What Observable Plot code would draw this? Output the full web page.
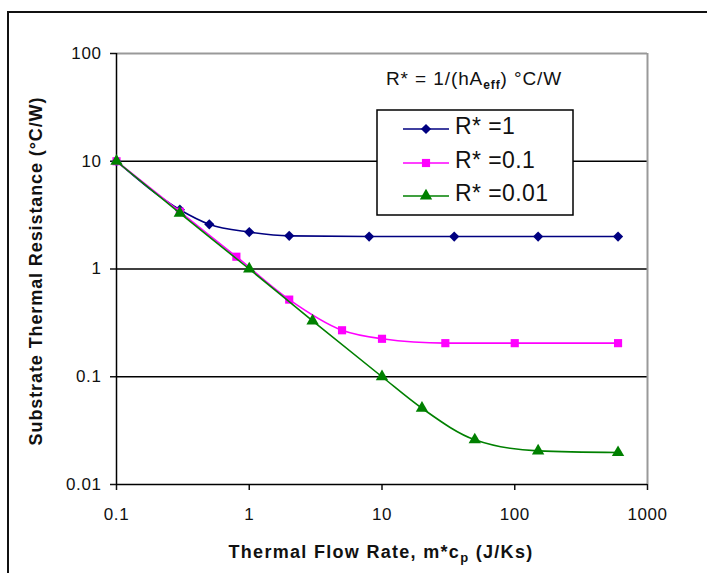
<!DOCTYPE html>
<html><head><meta charset="utf-8">
<script src="https://cdn.jsdelivr.net/npm/d3@7"></script>
<script src="https://cdn.jsdelivr.net/npm/@observablehq/plot@0.6"></script>
<style>
body{margin:0;background:#fff;overflow:hidden;width:707px;height:573px;position:relative;font-family:"Liberation Sans",Arial,sans-serif}
#chart{position:absolute;left:0;top:0}
#frame{position:absolute;left:7px;top:11px;width:800px;height:700px;border-left:2px solid #111;border-top:2px solid #111;pointer-events:none}
</style></head><body>
<div id="chart"></div><div id="frame"></div>
<script>
// ---- data ----
const seriesNames = ["R* =1", "R* =0.1", "R* =0.01"];
const seriesColors = ["#000080", "#ff00ff", "#008000"];
const seriesSymbols = ["diamond2", "square", "triangle"];

const flowA = [0.1, 0.3, 0.5, 1, 2, 8, 35, 150, 600];
const resA  = [10, 3.55, 2.6, 2.2, 2.03, 2.0, 2.0, 2.0, 2.0];
const flowB = [0.1, 0.3, 0.8, 2, 5, 10, 30, 100, 600];
const resB  = [10, 3.4, 1.3, 0.52, 0.27, 0.225, 0.205, 0.205, 0.205];
const flowC = [0.1, 0.3, 1, 3, 10, 20, 50, 150, 600];
const resC  = [10, 3.3, 1, 0.33, 0.1, 0.051, 0.026, 0.0205, 0.0198];

const xTicks = [0.1, 1, 10, 100, 1000];
const xTickLabels = ["0.1", "1", "10", "100", "1000"];
const yTicks = [0.01, 0.1, 1, 10, 100];
const yTickLabels = ["0.01", "0.1", "1", "10", "100"];
const gridValues = [0.1, 1, 10];

const xTitle = ["Thermal Flow Rate, m*c", "p", " (J/Ks)"];
const yTitle = "Substrate Thermal Resistance (°C/W)";
const noteText = ["R* = 1/(hA", "eff", ") °C/W"];

// ---- table ----
const flows = [flowA, flowB, flowC];
const ress = [resA, resB, resC];
const table = [];
seriesNames.forEach((s, k) => flows[k].forEach((f, i) => table.push({series: s, flow: f, res: ress[k][i]})));

const font = '"Liberation Sans", Arial, sans-serif';
const marks = [
  Plot.ruleY(gridValues, {stroke: "#000", strokeWidth: 1.5}),
  Plot.ruleY([100], {stroke: "#999", strokeWidth: 2}),
  Plot.ruleX([1000], {stroke: "#999", strokeWidth: 2}),
  Plot.axisX({ticks: xTicks, tickFormat: d => xTickLabels[xTicks.indexOf(d)], tickSize: 6, tickPadding: 17, fontSize: 17, label: null, strokeWidth: 1.5}),
  Plot.axisY({ticks: yTicks, tickFormat: d => yTickLabels[yTicks.indexOf(d)], tickSize: 6, tickPadding: 9, fontSize: 17, label: null, strokeWidth: 1.5}),
  Plot.ruleX([0.1], {stroke: "#000", strokeWidth: 1.5}),
  Plot.ruleY([0.01], {stroke: "#000", strokeWidth: 1.5})
];
seriesNames.forEach(s => {
  const d = table.filter(r => r.series === s);
  marks.push(Plot.line(d, {x: "flow", y: "res", stroke: "series", curve: "monotone-x", strokeWidth: 1.6}));
  marks.push(Plot.dot(d, {x: "flow", y: "res", fill: "series", symbol: "series", r: 4.6, stroke: "none"}));
});

const chart = Plot.plot({
  width: 707, height: 573,
  marginLeft: 116, marginRight: 60, marginTop: 53, marginBottom: 89,
  x: {type: "log", domain: [0.1, 1000]},
  y: {type: "log", domain: [0.01, 100]},
  color: {domain: seriesNames, range: seriesColors},
  symbol: {domain: seriesNames, range: seriesSymbols},
  style: {fontFamily: font, background: "white", color: "#111", overflow: "visible"},
  marks
});
document.getElementById("chart").appendChild(chart);

const svg = d3.select(chart);
svg.selectAll("[aria-label='x-axis tick label'] text, [aria-label='y-axis tick label'] text").style("letter-spacing", "0.6px");

// axis titles
const xt = svg.append("text").attr("x", 381).attr("y", 558).attr("text-anchor", "middle")
  .style("font", `bold 18px ${font}`).style("letter-spacing", "1.3px").attr("fill", "#111");
xt.append("tspan").text(xTitle[0]);
xt.append("tspan").attr("dy", 4).style("font-size", "13px").text(xTitle[1]);
xt.append("tspan").attr("dy", -4).text(xTitle[2]);

svg.append("text").attr("transform", "translate(36,271) rotate(-90)").attr("text-anchor", "middle").attr("dy", "0.35em")
  .style("font", `bold 18px ${font}`).style("letter-spacing", "0.9px").attr("fill", "#111").text(yTitle);

// note
const nt = svg.append("text").attr("x", 386).attr("y", 85).attr("text-anchor", "start")
  .style("font", `19px ${font}`).style("letter-spacing", "0.9px").attr("fill", "#111");
nt.append("tspan").text(noteText[0]);
nt.append("tspan").attr("dy", 4).style("font-size", "12px").style("font-weight", "bold").text(noteText[1]);
nt.append("tspan").attr("dy", -4).text(noteText[2]);

// legend
const lg = svg.append("g").attr("text-anchor", "start");
lg.append("rect").attr("x", 377).attr("y", 110).attr("width", 196).attr("height", 105)
  .attr("fill", "white").attr("stroke", "#000").attr("stroke-width", 1.5);
const sym = {diamond2: d3.symbolDiamond2, square: d3.symbolSquare, triangle: d3.symbolTriangle};
seriesNames.forEach((s, i) => {
  const y = [129, 163, 196][i];
  lg.append("line").attr("x1", 403).attr("x2", 449).attr("y1", y).attr("y2", y)
    .attr("stroke", seriesColors[i]).attr("stroke-width", 1.6);
  lg.append("path").attr("transform", `translate(426,${y})`)
    .attr("d", d3.symbol(sym[seriesSymbols[i]], Math.PI * 4.6 * 4.6)()).attr("fill", seriesColors[i]);
  lg.append("text").attr("x", 455).attr("y", y + 5).attr("text-anchor", "start")
    .style("font", `23px ${font}`).style("letter-spacing", "0.4px").attr("fill", "#111").text(s);
});
</script>
</body></html>
